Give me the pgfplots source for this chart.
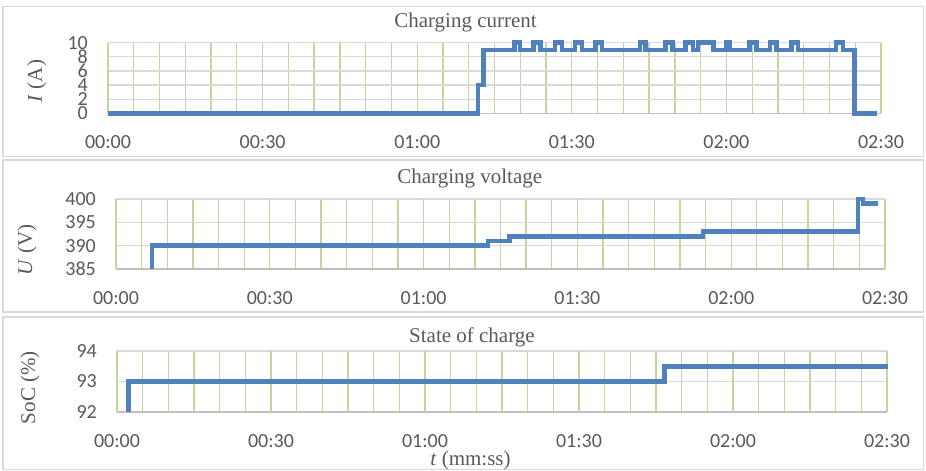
\documentclass[border=0pt]{standalone}
\usepackage{fontspec}
\setmainfont{Liberation Serif}
\newfontfamily\calibri{Carlito}
\usepackage{pgfplots}
\pgfplotsset{compat=1.18}

\definecolor{exblue}{HTML}{4F81BD}
\definecolor{gridgrey}{HTML}{D9D9D9}
\definecolor{axgrey}{HTML}{BFBFBF}
\definecolor{lgreen}{HTML}{C3D69B}
\definecolor{dgreen}{HTML}{9BBB59}
\definecolor{txtgrey}{HTML}{595959}

\pgfplotsset{
 panel/.style={
  scale only axis, anchor=south west,
  xmin=0, xmax=150, clip=false,
  axis x line*=bottom, axis y line*=left,
  axis line style={axgrey,line width=1.5pt,-},
  xtick={0,5,...,150}, xticklabels={},
  extra x ticks={0,30,60,90,120,150},
  extra x tick labels={00:00,00:30,01:00,01:30,02:00,02:30},
  extra x tick style={grid=major, major grid style={dgreen,line width=1.3pt}},
  xmajorgrids, ymajorgrids,
  x grid style={lgreen,line width=1.3pt},
  y grid style={gridgrey,line width=1.3pt},
  major tick length=0pt,
  /pgf/number format/assume math mode=true,
  tick label style={font=\calibri\fontsize{20}{22}\selectfont, text=txtgrey, inner sep=0pt},
  xticklabel style={anchor=north, yshift=-22pt},
  yticklabel style={anchor=east, xshift=-20pt},
  title style={font=\fontsize{21}{24}\selectfont, text=txtgrey, anchor=base},
  ylabel style={font=\fontsize{21}{24}\selectfont, text=txtgrey, anchor=center},
  xlabel style={font=\fontsize{21}{24}\selectfont, text=txtgrey, anchor=base},
 },
 step/.style={const plot, exblue, line width=4.5pt},
}

\begin{document}
\begin{tikzpicture}
% panel frames
\draw[gridgrey,line width=1.5pt] (3pt,314.3pt) rectangle (923.5pt,464.3pt);
\draw[gridgrey,line width=1.5pt] (3pt,159pt) rectangle (923.5pt,311pt);
\draw[gridgrey,line width=1.5pt] (3pt,1.5pt) rectangle (923.5pt,154pt);

% charging current
\begin{axis}[panel, at={(108pt,357.7pt)}, width=773pt, height=70.6pt,
 ymin=0, ymax=10, ytick={0,2,...,10},
 title=Charging current, title style={at={(axis description cs:0.4625,1.133)}},
 ylabel={\textit{I} (A)}, ylabel style={at={(axis description cs:-0.092,0.457)}}]
\addplot[step] coordinates {
 (0,0) (71.8,4) (72.9,9)
 (78.9,10) (79.9,9) (82.6,10) (83.9,9) (86.7,10) (88.1,9)
 (90.6,10) (92.0,9) (94.6,10) (95.9,9) (103.2,10) (104.3,9)
 (108.2,10) (109.5,9) (112.1,10) (113.5,9) (114.5,10) (117.5,9)
 (120.0,10) (120.6,9) (124.5,10) (125.8,9) (128.5,10) (129.7,9)
 (132.6,10) (133.9,9) (141.3,10) (142.6,9) (144.9,0) (149.2,0)
};
\end{axis}

% charging voltage
\begin{axis}[panel, at={(116pt,202pt)}, width=769pt, height=70pt,
 ymin=385, ymax=400, ytick={385,390,395,400},
 title=Charging voltage, title style={at={(axis description cs:0.46,1.129)}},
 ylabel={\textit{U} (V)}, ylabel style={at={(axis description cs:-0.1157,0.27)}}]
\addplot[step] coordinates {
 (7,385) (7,390) (72.6,391) (76.8,392) (114.5,393)
 (144.7,400) (145.7,399) (148.6,399)
};
\end{axis}

% state of charge
\begin{axis}[panel, at={(117pt,59pt)}, width=770pt, height=61pt,
 ymin=92, ymax=94, ytick={92,93,94},
 title=State of charge, title style={at={(axis description cs:0.461,1.044)}},
 ylabel={SoC (\%)}, ylabel style={at={(axis description cs:-0.113,0.4)}},
 xlabel={\textit{t} (mm:ss)}, xlabel style={at={(axis description cs:0.459,-0.869)}}]
\addplot[step] coordinates {
 (2.2,92) (2.2,93) (106.7,93.5) (150.2,93.5)
};
\end{axis}

\pgfresetboundingbox
\path[use as bounding box] (0,0) rectangle (926pt,471pt);
\end{tikzpicture}
\end{document}
